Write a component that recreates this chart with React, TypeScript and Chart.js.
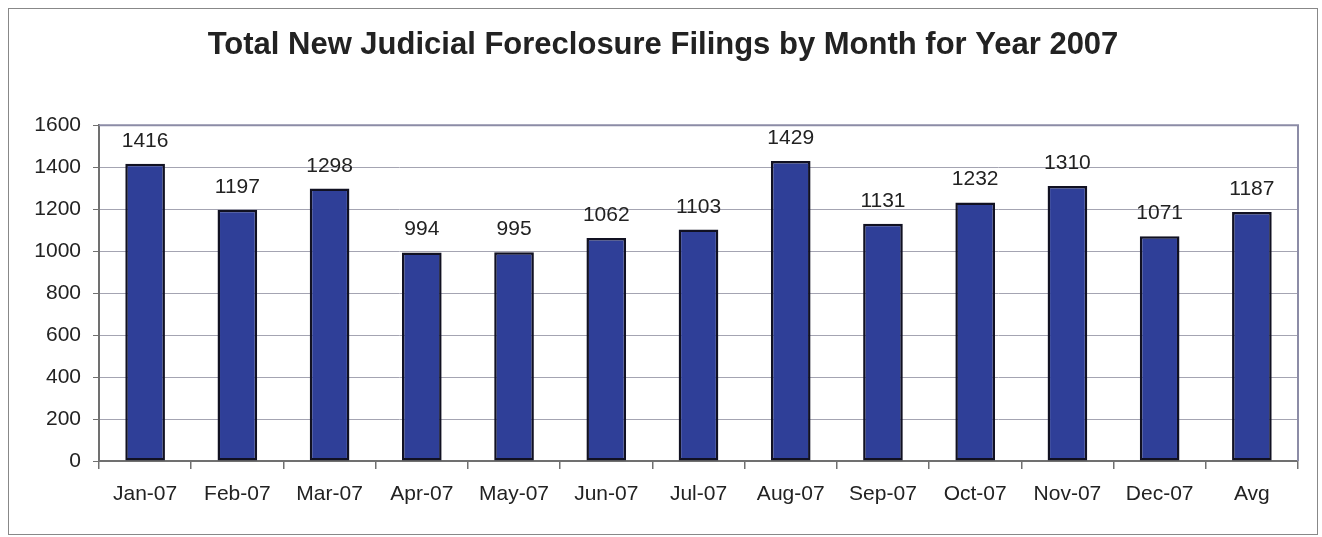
import React, { useEffect, useRef } from "react";
import { Chart, registerables } from "chart.js";

Chart.register(...registerables);

const TITLE = "Total New Judicial Foreclosure Filings by Month for Year 2007";
const categories = [
  "Jan-07", "Feb-07", "Mar-07", "Apr-07", "May-07", "Jun-07", "Jul-07",
  "Aug-07", "Sep-07", "Oct-07", "Nov-07", "Dec-07", "Avg",
];
const filings = [1416, 1197, 1298, 994, 995, 1062, 1103, 1429, 1131, 1232, 1310, 1071, 1187];
const yMin = 0;
const yMax = 1600;
const yStep = 200;

const FONT = "'Liberation Sans', Arial, Helvetica, sans-serif";

const plotBorder = {
  id: "plotBorder",
  afterDraw(chart: any) {
    const { ctx, chartArea } = chart;
    ctx.save();
    ctx.strokeStyle = "#8c8ca6";
    ctx.lineWidth = 2;
    ctx.beginPath();
    ctx.moveTo(chartArea.left, chartArea.top);
    ctx.lineTo(chartArea.right, chartArea.top);
    ctx.lineTo(chartArea.right, chartArea.bottom);
    ctx.stroke();
    ctx.restore();
  },
};

const valueLabels = {
  id: "valueLabels",
  afterDatasetsDraw(chart: any) {
    const { ctx } = chart;
    const meta = chart.getDatasetMeta(0);
    const data = chart.data.datasets[0].data;
    ctx.save();
    ctx.font = `21px ${FONT}`;
    ctx.fillStyle = "#222222";
    ctx.textAlign = "center";
    ctx.textBaseline = "alphabetic";
    meta.data.forEach((el: any, i: number) => {
      ctx.fillText(String(data[i]), el.x, el.y - 17);
    });
    ctx.restore();
  },
};

export default function App() {
  const ref = useRef<HTMLCanvasElement | null>(null);
  useEffect(() => {
    if (!ref.current) return;
    const chart = new Chart(ref.current, {
      type: "bar",
      data: {
        labels: categories,
        datasets: [
          {
            data: filings,
            backgroundColor: "#2f3f98",
            borderColor: "#111122",
            borderWidth: 2.5,
            borderSkipped: false,
            barPercentage: 0.43,
            categoryPercentage: 1,
          },
        ],
      },
      options: {
        animation: false,
        responsive: true,
        maintainAspectRatio: false,
        layout: { padding: { left: 19, right: 19, top: 0, bottom: 0 } },
        plugins: {
          legend: { display: false },
          tooltip: { enabled: false },
          title: {
            display: true,
            text: TITLE,
            color: "#222222",
            font: { family: FONT, size: 31, weight: "bold" },
            padding: { top: 18, bottom: 61 },
          },
        },
        scales: {
          x: {
            grid: {
              offset: true,
              drawOnChartArea: false,
              drawTicks: true,
              tickLength: 8,
              color: "#707070",
              lineWidth: 1.5,
            },
            border: { color: "#707070", width: 2 },
            ticks: {
              color: "#222222",
              font: { family: FONT, size: 21 },
              padding: 13,
              maxRotation: 0,
              autoSkip: false,
            },
            afterFit(scale: any) {
              scale.height = 73;
            },
          },
          y: {
            min: yMin,
            max: yMax,
            grid: {
              color: "#a4a4b2",
              lineWidth: 1,
              tickLength: 6,
              tickColor: "#707070",
            },
            border: { color: "#707070", width: 2 },
            ticks: {
              stepSize: yStep,
              color: "#222222",
              font: { family: FONT, size: 21 },
              padding: 12,
              callback: (v: any) => String(v),
            },
            afterFit(scale: any) {
              scale.width = 71;
            },
          },
        },
      },
      plugins: [plotBorder, valueLabels],
    });
    return () => chart.destroy();
  }, []);

  return (
    <div
      style={{
        position: "fixed",
        left: 8,
        top: 8,
        width: 1310,
        height: 527,
        boxSizing: "border-box",
        border: "1px solid #888888",
        background: "#ffffff",
      }}
    >
      <canvas ref={ref} />
    </div>
  );
}
